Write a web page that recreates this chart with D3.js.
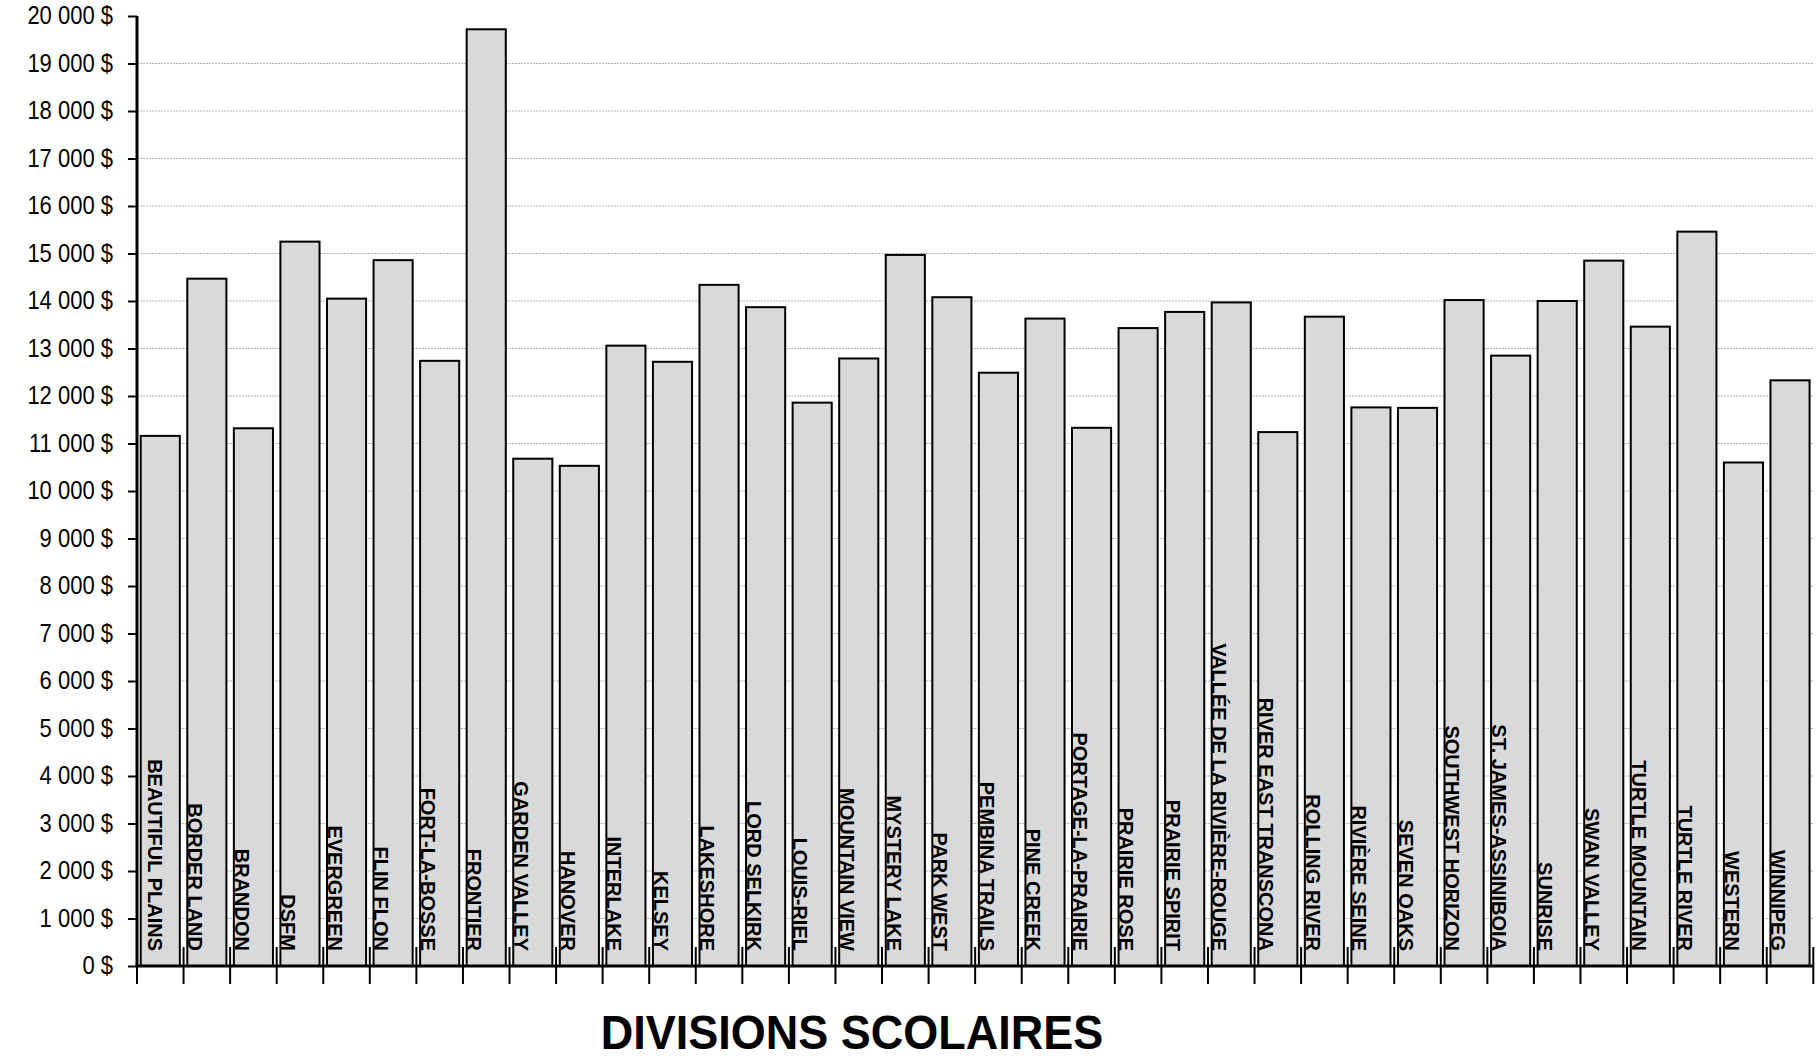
<!DOCTYPE html>
<html>
<head>
<meta charset="utf-8">
<script src="https://cdn.jsdelivr.net/npm/d3@7"></script>
<style>
  html, body { margin: 0; padding: 0; background: #fff; }
  svg { display: block; }
  text { font-family: "Liberation Sans", Arial, sans-serif; }
</style>
</head>
<body>
<svg id="chart" width="1818" height="1058"></svg>
<script>
const categories = [
  "BEAUTIFUL PLAINS", "BORDER LAND", "BRANDON", "DSFM", "EVERGREEN", "FLIN FLON",
  "FORT-LA-BOSSE", "FRONTIER", "GARDEN VALLEY", "HANOVER", "INTERLAKE", "KELSEY",
  "LAKESHORE", "LORD SELKIRK", "LOUIS-RIEL", "MOUNTAIN VIEW", "MYSTERY LAKE", "PARK WEST",
  "PEMBINA TRAILS", "PINE CREEK", "PORTAGE-LA-PRAIRIE", "PRAIRIE ROSE", "PRAIRIE SPIRIT",
  "VALLÉE DE LA RIVIÈRE-ROUGE", "RIVER EAST TRANSCONA", "ROLLING RIVER", "RIVIÈRE SEINE",
  "SEVEN OAKS", "SOUTHWEST HORIZON", "ST. JAMES-ASSINIBOIA", "SUNRISE", "SWAN VALLEY",
  "TURTLE MOUNTAIN", "TURTLE RIVER", "WESTERN", "WINNIPEG"
];
const values = [
  11160, 14470, 11320, 15250, 14050, 14860,
  12740, 19720, 10680, 10530, 13060, 12720,
  14340, 13870, 11860, 12790, 14970, 14080,
  12490, 13630, 11330, 13430, 13770,
  13970, 11240, 13670, 11760,
  11750, 14020, 12850, 14000, 14850,
  13460, 15460, 10600, 12330
];
const yTicks = [0, 1000, 2000, 3000, 4000, 5000, 6000, 7000, 8000, 9000, 10000,
  11000, 12000, 13000, 14000, 15000, 16000, 17000, 18000, 19000, 20000];
const yTickLabels = ["0 $", "1 000 $", "2 000 $", "3 000 $", "4 000 $", "5 000 $", "6 000 $",
  "7 000 $", "8 000 $", "9 000 $", "10 000 $", "11 000 $", "12 000 $", "13 000 $", "14 000 $",
  "15 000 $", "16 000 $", "17 000 $", "18 000 $", "19 000 $", "20 000 $"];
const xTitle = "DIVISIONS SCOLAIRES";

const svg = d3.select("#chart");
const plotLeft = 137, plotRight = 1813.3, plotTop = 16, plotBottom = 966;

const x = d3.scaleBand().domain(categories).range([plotLeft, plotRight])
  .paddingInner(0.16).paddingOuter(0.08);
const step = x.step();
const y = d3.scaleLinear().domain([0, 20000]).range([plotBottom, plotTop]);

// gridlines
svg.append("g").selectAll("line")
  .data(yTicks.filter(d => d > 0 && d < 20000))
  .join("line")
  .attr("x1", plotLeft).attr("x2", plotRight)
  .attr("y1", d => y(d)).attr("y2", d => y(d))
  .attr("stroke", "#b4b4b4").attr("stroke-width", 1)
  .attr("stroke-dasharray", "2,1");

// bars
svg.append("g").selectAll("rect")
  .data(categories)
  .join("rect")
  .attr("x", d => x(d))
  .attr("y", (d, i) => y(values[i]))
  .attr("width", x.bandwidth())
  .attr("height", (d, i) => plotBottom - y(values[i]))
  .attr("fill", "#d9d9d9")
  .attr("stroke", "#000")
  .attr("stroke-width", 2);

// y axis
const yAxis = d3.axisLeft(y).tickValues(yTicks)
  .tickFormat((d, i) => yTickLabels[i]).tickSize(9).tickPadding(15);
const gy = svg.append("g").attr("transform", `translate(${plotLeft},0)`).call(yAxis);
gy.select(".domain").attr("stroke", "#000").attr("stroke-width", 3)
  .attr("d", `M0,${plotTop}V${plotBottom}`);
gy.selectAll(".tick line").attr("stroke", "#000").attr("stroke-width", 2);
gy.selectAll(".tick text").attr("font-size", 22).attr("fill", "#000")
  .attr("transform", "scale(1,1.13)")
  .attr("font-family", "'Liberation Sans', Arial, sans-serif");

// x axis baseline
svg.append("line").attr("x1", plotLeft - 1.5).attr("x2", plotRight)
  .attr("y1", plotBottom).attr("y2", plotBottom)
  .attr("stroke", "#000").attr("stroke-width", 3);

// x ticks at band boundaries (crossing the axis)
const boundaries = d3.range(categories.length + 1).map(i => plotLeft + i * step);
svg.append("g").selectAll("line")
  .data(boundaries)
  .join("line")
  .attr("x1", d => d).attr("x2", d => d)
  .attr("y1", plotBottom - 19).attr("y2", plotBottom + 18)
  .attr("stroke", "#000").attr("stroke-width", 2);

// category labels (rotated, inside bars)
svg.append("g").selectAll("text")
  .data(categories)
  .join("text")
  .attr("transform", (d, i) => `translate(${x(d) - step * 0.08 + (i === 0 ? 11 : 4.5)},951) rotate(90)`)
  .attr("text-anchor", "end")
  .attr("font-size", 20)
  .attr("font-weight", "bold")
  .attr("fill", "#000")
  .text(d => d);

// x axis title
svg.append("text")
  .attr("transform", "translate(852,1049) scale(1,1.06)")
  .attr("text-anchor", "middle")
  .attr("font-size", 45)
  .attr("font-weight", "bold")
  .attr("fill", "#000")
  .text(xTitle);
</script>
</body>
</html>
